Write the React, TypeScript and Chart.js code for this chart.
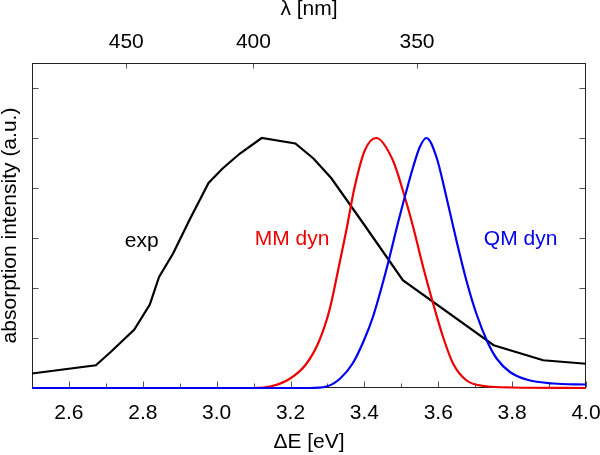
import React, { useEffect, useRef } from 'react';
import { Chart, registerables } from 'chart.js';

Chart.register(...registerables);

const HC = 1239.84; // eV*nm
const FONT = "'Liberation Sans', Arial, Helvetica, sans-serif";
const MM_COLOR = '#ee0000';
const QM_COLOR = '#0000ee';

// Tick definitions
const xTickValues = [2.6, 2.8, 3.0, 3.2, 3.4, 3.6, 3.8, 4.0];
const xMinorTickValues = [2.7, 2.9, 3.1, 3.3, 3.5, 3.7, 3.9];
const yTickValues = [0.2, 0.4, 0.6, 0.8, 1.0, 1.2];
const lambdaTickValues = [450, 400, 350];

// Experimental spectrum
const expEnergy = [2.5, 2.673, 2.713, 2.777, 2.819, 2.844, 2.882, 2.926, 2.978, 3.016, 3.063, 3.122, 3.213, 3.262, 3.31, 3.4, 3.504, 3.75, 3.884, 4.0];
const expIntensity = [0.058, 0.091, 0.144, 0.234, 0.334, 0.444, 0.538, 0.671, 0.82, 0.878, 0.938, 1.0, 0.978, 0.918, 0.84, 0.652, 0.431, 0.171, 0.111, 0.097];

// MM dyn spectrum
const mmEnergy = [2.5, 2.8, 3.1, 3.15, 3.197, 3.242, 3.278, 3.306, 3.328, 3.351, 3.373, 3.401, 3.432, 3.477, 3.504, 3.532, 3.559, 3.586, 3.613, 3.64, 3.676, 3.73, 3.8, 4.0];
const mmIntensity = [0, 0, 0, 0.008, 0.036, 0.095, 0.19, 0.315, 0.465, 0.63, 0.8, 0.95, 1.0, 0.911, 0.791, 0.644, 0.484, 0.338, 0.204, 0.098, 0.031, 0.007, 0.002, 0];

// QM dyn spectrum
const qmEnergy = [2.5, 2.9, 3.25, 3.297, 3.333, 3.369, 3.4, 3.423, 3.459, 3.495, 3.532, 3.55, 3.568, 3.595, 3.622, 3.649, 3.676, 3.703, 3.733, 3.758, 3.794, 3.839, 3.911, 4.0];
const qmIntensity = [0, 0, 0, 0.006, 0.036, 0.1, 0.195, 0.284, 0.471, 0.684, 0.884, 0.964, 1.0, 0.924, 0.764, 0.591, 0.431, 0.298, 0.185, 0.118, 0.064, 0.034, 0.018, 0.014];

// Series labels and their anchor points (data coordinates)
const seriesLabels = ['exp', 'MM dyn', 'QM dyn'];
const seriesLabelColors = ['#000000', MM_COLOR, QM_COLOR];
const seriesLabelAnchors = [
  [2.797, 0.588],
  [3.204, 0.594],
  [3.823, 0.594],
];

const toPoints = (xs: number[], ys: number[]) => xs.map((x, i) => ({ x, y: ys[i] }));

const frameTicksPlugin = {
  id: 'frameTicks',
  beforeDatasetsDraw(chart: any) {
    const { ctx, chartArea: a, scales } = chart;
    const xs = scales.x;
    const ys = scales.y;
    const L = Math.round(a.left) + 0.5;
    const R = Math.round(a.right) - 0.5;
    const T = Math.round(a.top) + 0.5;
    const B = Math.round(a.bottom) - 0.5;
    ctx.save();
    ctx.lineWidth = 1;
    ctx.strokeStyle = '#555';
    ctx.beginPath();
    xTickValues.forEach((v) => {
      const px = Math.round(xs.getPixelForValue(v)) + 0.5;
      ctx.moveTo(px, B);
      ctx.lineTo(px, B - 6);
    });
    xMinorTickValues.forEach((v) => {
      const px = Math.round(xs.getPixelForValue(v)) + 0.5;
      ctx.moveTo(px, B);
      ctx.lineTo(px, B - 4);
    });
    lambdaTickValues.forEach((nm) => {
      const px = Math.round(xs.getPixelForValue(HC / nm)) + 0.5;
      ctx.moveTo(px, T);
      ctx.lineTo(px, T + 5);
    });
    yTickValues.forEach((v) => {
      const py = Math.round(ys.getPixelForValue(v)) + 0.5;
      ctx.moveTo(L, py);
      ctx.lineTo(L + 6, py);
      ctx.moveTo(R, py);
      ctx.lineTo(R - 6, py);
    });
    ctx.stroke();
    ctx.strokeStyle = '#222';
    ctx.strokeRect(L, T, R - L, B - T);
    ctx.restore();
  },
  afterDatasetsDraw(chart: any) {
    const { ctx, scales } = chart;
    ctx.save();
    ctx.font = `21px ${FONT}`;
    ctx.textAlign = 'center';
    ctx.textBaseline = 'middle';
    seriesLabels.forEach((t, i) => {
      ctx.fillStyle = seriesLabelColors[i];
      ctx.fillText(
        t,
        scales.x.getPixelForValue(seriesLabelAnchors[i][0]),
        scales.y.getPixelForValue(seriesLabelAnchors[i][1])
      );
    });
    ctx.restore();
  },
};

export default function App() {
  const canvasRef = useRef<HTMLCanvasElement | null>(null);

  useEffect(() => {
    const canvas = canvasRef.current;
    if (!canvas) return;
    const font = { family: FONT, size: 21, lineHeight: 1 };
    const chart = new Chart(canvas, {
      type: 'line',
      data: {
        datasets: [
          {
            label: 'QM dyn',
            data: toPoints(qmEnergy, qmIntensity),
            borderColor: QM_COLOR,
            borderWidth: 2.2,
            pointRadius: 0,
            fill: false,
            clip: false,
            cubicInterpolationMode: 'monotone',
            order: 0,
          },
          {
            label: 'MM dyn',
            data: toPoints(mmEnergy, mmIntensity),
            borderColor: MM_COLOR,
            borderWidth: 2.2,
            pointRadius: 0,
            fill: false,
            clip: false,
            cubicInterpolationMode: 'monotone',
            order: 1,
          },
          {
            label: 'exp',
            data: toPoints(expEnergy, expIntensity),
            borderColor: '#000000',
            borderWidth: 2.2,
            pointRadius: 0,
            fill: false,
            clip: false,
            tension: 0,
            order: 2,
          },
        ],
      } as any,
      options: {
        animation: false,
        responsive: false,
        devicePixelRatio: 1,
        layout: { padding: { left: 0, right: 14, top: 0, bottom: 0 } },
        plugins: { legend: { display: false }, tooltip: { enabled: false } },
        scales: {
          x: {
            type: 'linear',
            position: 'bottom',
            min: 2.5,
            max: 4.0,
            grid: { display: false, drawTicks: false },
            border: { display: false },
            afterBuildTicks: (s: any) => {
              s.ticks = xTickValues.map((v) => ({ value: v }));
            },
            afterFit: (s: any) => {
              s.height = 67;
              s.paddingLeft = 0;
              s.paddingRight = 0;
            },
            ticks: {
              autoSkip: false,
              maxRotation: 0,
              padding: 15,
              color: '#000',
              font,
              callback: (v: any) => Number(v).toFixed(1),
            },
            title: {
              display: true,
              text: 'ΔE [eV]',
              color: '#000',
              font,
              padding: { top: 0, bottom: 2 },
            },
          },
          x2: {
            type: 'linear',
            position: 'top',
            min: 2.5,
            max: 4.0,
            grid: { display: false, drawTicks: false },
            border: { display: false },
            afterBuildTicks: (s: any) => {
              s.ticks = lambdaTickValues.map((nm) => ({ value: HC / nm }));
            },
            afterFit: (s: any) => {
              s.height = 63;
              s.paddingLeft = 0;
              s.paddingRight = 0;
            },
            ticks: {
              autoSkip: false,
              maxRotation: 0,
              padding: 10.5,
              color: '#000',
              font,
              callback: (v: any) => String(Math.round(HC / Number(v))),
            },
            title: {
              display: true,
              text: 'λ [nm]',
              color: '#000',
              font,
              padding: { top: -1, bottom: 0 },
            },
          },
          y: {
            type: 'linear',
            min: 0,
            max: 1.3,
            grid: { display: false, drawTicks: false },
            border: { display: false },
            ticks: { display: false },
            afterFit: (s: any) => {
              s.width = 32;
            },
            title: {
              display: true,
              text: 'absorption intensity (a.u.)',
              color: '#000',
              font,
              padding: { top: 0, bottom: 0 },
            },
          },
        },
      } as any,
      plugins: [frameTicksPlugin],
    });
    return () => chart.destroy();
  }, []);

  return (
    <div style={{ position: 'fixed', left: 0, top: 0, width: 600, height: 455, background: '#fff' }}>
      <canvas ref={canvasRef} width={600} height={455} style={{ display: 'block', width: 600, height: 455 }} />
    </div>
  );
}
